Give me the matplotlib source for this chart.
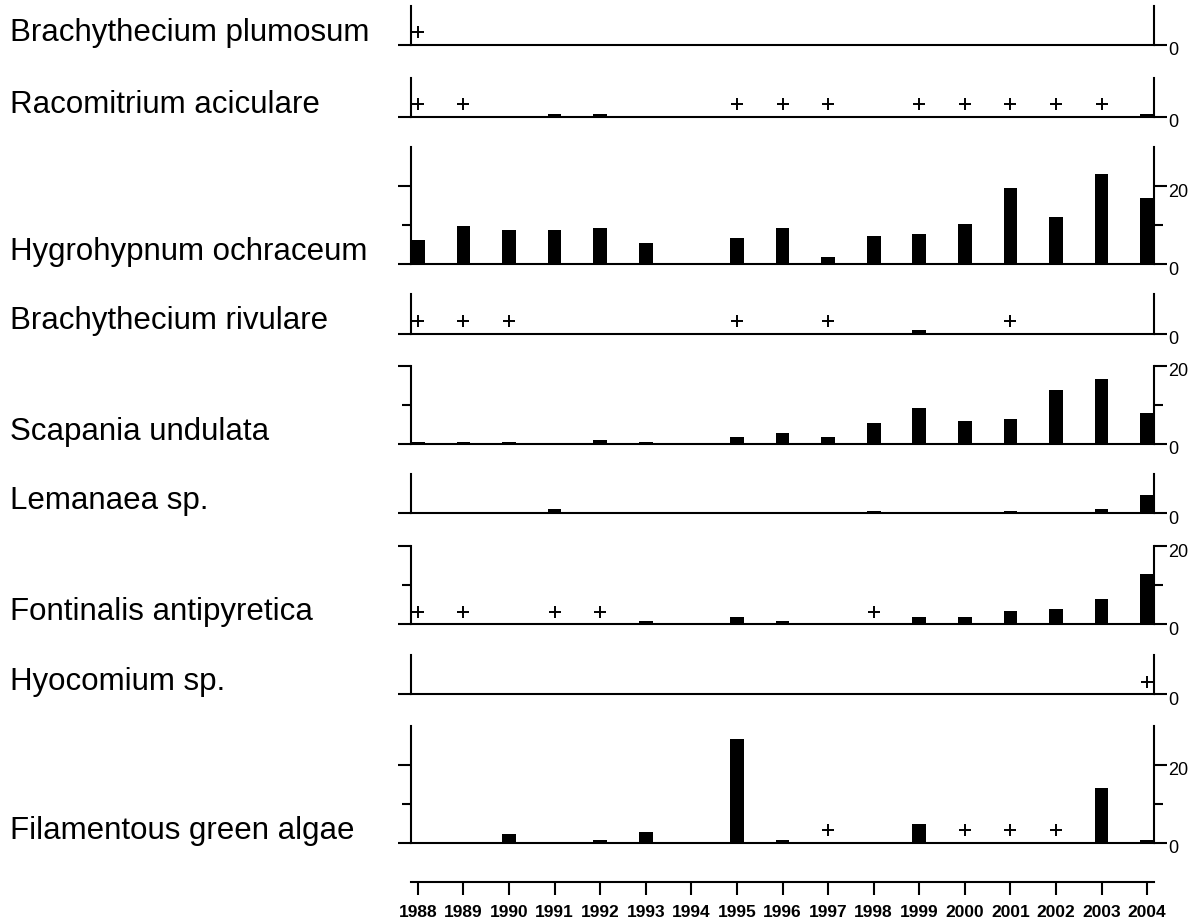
import matplotlib.pyplot as plt
from matplotlib.transforms import ScaledTranslation

# cover per year, 1988-2004 (0 = no bar); "+" = present but only a trace
years = list(range(1988, 2005))

names = [
    "Brachythecium plumosum",
    "Racomitrium aciculare",
    "Hygrohypnum ochraceum",
    "Brachythecium rivulare",
    "Scapania undulata",
    "Lemanaea sp.",
    "Fontinalis antipyretica",
    "Hyocomium sp.",
    "Filamentous green algae",
]

plumosum = [0] * 17
racomitrium = [0, 0, 0, 0.6, 0.6, 0, 0, 0, 0, 0, 0, 0, 0, 0, 0, 0, 0.6]
hygrohypnum = [6.2, 9.8, 8.8, 8.8, 9.3, 5.5, 0, 6.6, 9.3, 1.9, 7.2, 7.7, 10.3, 19.6, 12.1, 23.0, 16.9]
rivulare = [0, 0, 0, 0, 0, 0, 0, 0, 0, 0, 0, 0.9, 0, 0, 0, 0, 0]
scapania = [0.5, 0.5, 0.5, 0, 1.0, 0.5, 0, 1.7, 2.7, 1.7, 5.4, 9.1, 5.9, 6.4, 13.8, 16.5, 7.9]
lemanaea = [0, 0, 0, 1.0, 0, 0, 0, 0, 0, 0, 0.6, 0, 0, 0.6, 0, 1.0, 4.7]
fontinalis = [0, 0, 0, 0, 0, 0.7, 0, 1.7, 0.7, 0, 0, 1.7, 1.7, 3.4, 3.9, 6.4, 12.8]
hyocomium = [0] * 17
algae = [0, 0, 2.3, 0, 0.7, 2.8, 0, 26.5, 0.7, 0, 0, 4.9, 0, 0, 0, 13.9, 0.7]

plumosum_plus = [1988]
racomitrium_plus = [1988, 1989, 1995, 1996, 1997, 1999, 2000, 2001, 2002, 2003]
hygrohypnum_plus = []
rivulare_plus = [1988, 1989, 1990, 1995, 1997, 2001]
scapania_plus = []
lemanaea_plus = []
fontinalis_plus = [1988, 1989, 1991, 1992, 1998]
hyocomium_plus = [2004]
algae_plus = [1997, 2000, 2001, 2002]

values = [plumosum, racomitrium, hygrohypnum, rivulare, scapania,
          lemanaea, fontinalis, hyocomium, algae]
plus_years = [plumosum_plus, racomitrium_plus, hygrohypnum_plus, rivulare_plus,
              scapania_plus, lemanaea_plus, fontinalis_plus, hyocomium_plus, algae_plus]
ymax = [10, 10, 30, 10, 20, 10, 20, 10, 30]

# layout in pixels
W, H = 1195, 924
baselines = [44.5, 116.7, 264, 333.5, 443.7, 513.3, 624, 694, 842.7]
px_per_unit = 3.9
x_left, x_right = 411, 1154
PLUS_Y = 3.2

plt.rcParams['font.family'] = ['Liberation Sans', 'DejaVu Sans']

fig = plt.figure(figsize=(W / 100, H / 100), dpi=100)

for name, vals, plus, top, base in zip(names, values, plus_years, ymax, baselines):
    h = top * px_per_unit
    ax = fig.add_axes([x_left / W, 1 - base / H, (x_right - x_left) / W, h / H])
    ax.bar(years, vals, width=0.3, color='black', linewidth=0)
    if plus:
        ax.plot(plus, [PLUS_Y] * len(plus), '+', color='black', ms=8, mew=1.4,
                clip_on=False)
    ax.set_xlim(1987.85, 2004.15)
    ax.set_ylim(0, top)

    ax.spines['top'].set_visible(False)
    for s in ['left', 'right', 'bottom']:
        ax.spines[s].set_linewidth(1.5)
    ax.tick_params(axis='x', bottom=False, labelbottom=False)

    if top > 10:
        ax.set_yticks([0, 20])
        ax.set_yticks([10], minor=True)
        ax.set_yticklabels(['0', '20'])
    else:
        ax.set_yticks([0])
        ax.set_yticklabels(['0'])
    ax.tick_params(axis='y', which='major', left=True, right=True, labelleft=False,
                   labelright=True, direction='out', length=9.2, width=1.5,
                   pad=1, labelsize=13)
    ax.tick_params(axis='y', which='minor', left=True, right=True, direction='out',
                   length=6.5, width=1.5)
    shift = ScaledTranslation(0, -3 / 72, fig.dpi_scale_trans)
    for lab in ax.get_yticklabels():
        lab.set_transform(lab.get_transform() + shift)

    fig.text(10 / W, 1 - (base - 4) / H, name, fontsize=22.5, va='baseline', ha='left')

# shared year axis at the bottom
ax_y = fig.add_axes([x_left / W, 1 - 882 / H, (x_right - x_left) / W, 0.001])
ax_y.set_xlim(1987.85, 2004.15)
for s in ['top', 'left', 'right']:
    ax_y.spines[s].set_visible(False)
ax_y.spines['bottom'].set_linewidth(1.5)
ax_y.set_yticks([])
ax_y.set_xticks(years)
ax_y.set_xticklabels([str(y) for y in years], fontweight='bold', fontsize=12.5)
ax_y.tick_params(axis='x', direction='out', length=9.4, width=1.5, pad=7)

fig.savefig('out.png', dpi=100, facecolor='white')
